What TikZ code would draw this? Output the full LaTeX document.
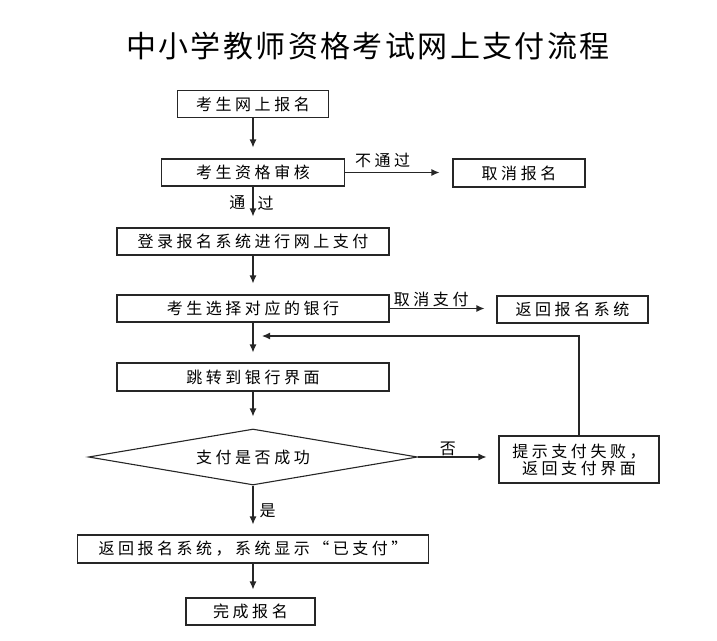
\documentclass[tikz,border=0pt]{standalone}
\usepackage{fontspec}
\newfontfamily\cjk{Noto Sans CJK SC}[LetterSpace=22]
\newfontfamily\titlefont{Noto Sans CJK SC}[LetterSpace=8]
\usepackage{tikz}
\usetikzlibrary{shapes.geometric}
\usetikzlibrary{arrows.meta}
\tikzset{>={Latex[length=8pt, width=7pt]}}
\tikzset{box/.style={draw, minimum height=27pt, inner sep=0pt}}
\tikzset{lab/.style={inner sep=1pt}}

\begin{document}
\begin{tikzpicture}[x=1pt, y=-1pt, line width=1.1pt, draw=black!85, every node/.style={font=\cjk\fontsize{16}{17}\selectfont}]
    \useasboundingbox (0, 0) rectangle (717, 640);
    \node (title) at (368, 46) {\titlefont\fontsize{30}{32}\selectfont 中小学教师资格考试网上支付流程};
    \node[box, minimum width=151pt] (apply) at (253, 104) {考生网上报名};
    \node[box, minimum width=183pt] (check) at (253, 172.5) {考生资格审核};
    \node[box, minimum width=132pt, minimum height=28pt] (cancel) at (519, 173) {取消报名};
    \node[box, minimum width=272pt] (login) at (253, 241.5) {登录报名系统进行网上支付};
    \node[box, minimum width=272pt] (bank) at (253, 308.5) {考生选择对应的银行};
    \node[box, minimum width=151pt] (back) at (572.5, 309.5) {返回报名系统};
    \node[box, minimum width=272pt, minimum height=28pt] (jump) at (253, 377) {跳转到银行界面};
    \node[draw, diamond, aspect=5.9, minimum width=329pt, minimum height=56pt, inner sep=0pt] (paid) at (253, 457) {支付是否成功};
    \node[box, minimum width=160pt, minimum height=47pt, align=center] (fail) at (579, 459.5) {提示支付失败，\\返回支付界面};
    \node[box, minimum width=351pt, minimum height=28pt] (shown) at (253, 549) {返回报名系统，系统显示“已支付”};
    \node[box, minimum width=129pt] (finish) at (250.5, 611.5) {完成报名};
    \coordinate (loop) at (253, 336);

    \draw[->, shorten >=11pt](apply.south) -- (apply.south |- check.north);
    \draw[->, shorten >=11pt](check.south) -- node[lab, pos=.4, left=6pt]{通} node[lab, pos=.4, right=3pt]{过} (check.south |- login.north);
    \draw[->, shorten >=13pt](check.east) -- node[lab, above=3pt, pos=.35]{不通过} (check.east -| cancel.west);
    \draw[->, shorten >=11pt](login.south) -- (login.south |- bank.north);
    \draw[->, shorten >=12pt](bank.east) -- node[lab, above, pos=.39]{取消支付} (bank.east -| back.west);
    \draw[->, shorten >=10pt](bank.south) -- (bank.south |- jump.north);
    \draw[->, shorten >=9pt](fail.north) |- (loop);
    \draw[->, shorten >=12pt](jump.south) -- (jump.south |- paid.north);
    \draw[->, shorten >=12pt](paid.east) -- node[lab, above, pos=.37]{否} (paid.east -| fail.west);
    \draw[->, shorten >=10pt](paid.south) -- node[lab, right=5pt, pos=.52]{是} (paid.south |- shown.north);
    \draw[->, shorten >=8pt](shown.south) -- (shown.south |- finish.north);
\end{tikzpicture}
\end{document}
